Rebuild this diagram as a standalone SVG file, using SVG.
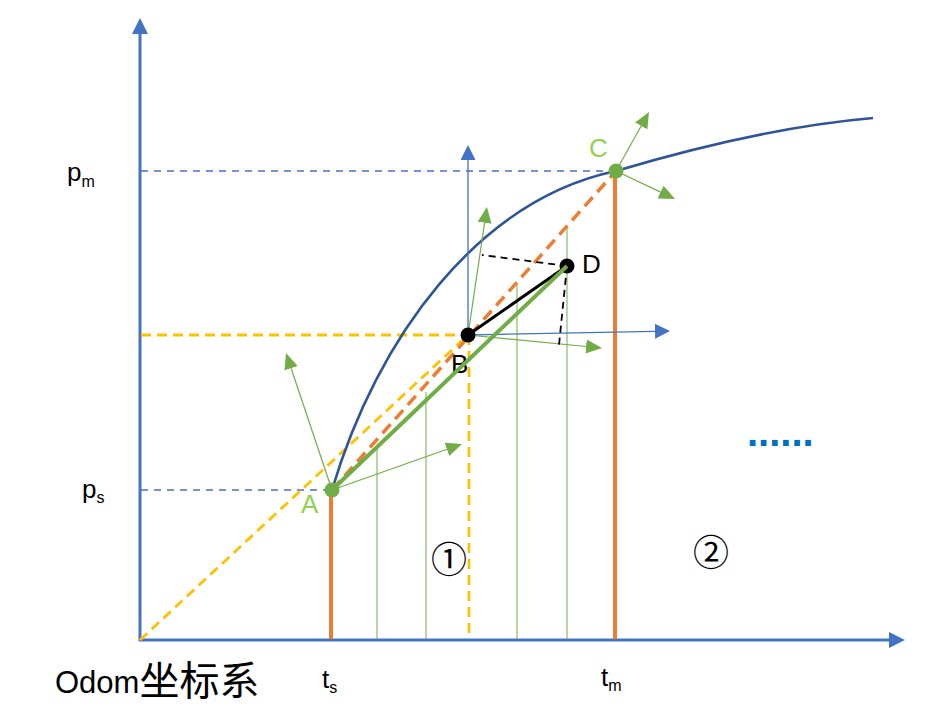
<svg xmlns="http://www.w3.org/2000/svg" width="950" height="723" viewBox="0 0 950 723">
<style>
.axis{stroke:#4472C4;stroke-width:3;fill:none}
.bluedash{stroke:#4472C4;stroke-width:1.6;stroke-dasharray:7 6;fill:none}
.thinblue{stroke:#4472C4;stroke-width:1.3;fill:none}
.yellow{stroke:#FFC000;stroke-width:2.8;stroke-dasharray:10 6;fill:none}
.orangedash{stroke:#ED7D31;stroke-width:3.5;stroke-dasharray:12 7;fill:none}
.orange{stroke:#ED7D31;stroke-width:4;fill:none}
.curve{stroke:#2F5597;stroke-width:2.6;fill:none}
.green{stroke:#70AD47;stroke-width:4;fill:none}
.gthin{stroke:#70AD47;stroke-width:1;fill:none}
.garrow{stroke:#70AD47;stroke-width:1.2;fill:none;marker-end:url(#gArr)}
.blackdash{stroke:#000;stroke-width:1.8;stroke-dasharray:7 5;fill:none}
.lbl{font-family:"Liberation Sans",Arial,sans-serif;fill:#000}
.glbl{font-family:"Liberation Sans",Arial,sans-serif;fill:#92D050;font-size:26px}
</style>
<defs>
<marker id="axArr" markerUnits="userSpaceOnUse" markerWidth="16" markerHeight="16" viewBox="0 0 16 16" refX="0" refY="8" orient="auto"><path d="M0,0 L16,8 L0,16 z" fill="#4472C4"/></marker>
<marker id="bArr" markerUnits="userSpaceOnUse" markerWidth="15" markerHeight="15" viewBox="0 0 15 15" refX="0" refY="7.5" orient="auto"><path d="M0,0 L15,7.5 L0,15 z" fill="#4472C4"/></marker>
<marker id="gArr" markerUnits="userSpaceOnUse" markerWidth="16" markerHeight="14" viewBox="0 0 16 14" refX="0" refY="7" orient="auto"><path d="M0,0 L16,7 L0,14 z" fill="#70AD47"/></marker>
</defs>
<rect width="950" height="723" fill="#fff"/>

<g id="axes">
<line class="axis" x1="140" y1="641" x2="140" y2="34" marker-end="url(#axArr)"/>
<line class="axis" x1="139" y1="640" x2="889" y2="640" marker-end="url(#axArr)"/>
</g>

<g id="connectors">
<line class="bluedash" x1="141" y1="171" x2="612" y2="171"/>
<line class="bluedash" x1="141" y1="490" x2="330" y2="490"/>
<line class="gthin" x1="377" y1="447" x2="377" y2="639"/>
<line class="gthin" x1="426" y1="392" x2="426" y2="639"/>
<line class="gthin" x1="517" y1="284" x2="517" y2="639"/>
<line class="gthin" x1="567" y1="227" x2="567" y2="639"/>
<line class="yellow" x1="140" y1="640" x2="468" y2="335"/>
<line class="yellow" x1="141" y1="335" x2="468" y2="335"/>
<line class="yellow" x1="469" y1="335" x2="469" y2="639"/>
<line class="orange" x1="331" y1="490" x2="331" y2="639"/>
<line class="orange" x1="615" y1="171" x2="615" y2="639"/>
<path class="curve" d="M332,490 C377,338 478,200 616,171 C680,152 780,126 873,118"/>
<line class="orangedash" x1="332" y1="490" x2="616" y2="171"/>
<line class="thinblue" x1="468" y1="335" x2="468" y2="160" marker-end="url(#bArr)"/>
<line class="thinblue" x1="468" y1="335" x2="655" y2="331.3" marker-end="url(#bArr)"/>
<line class="garrow" x1="332" y1="490" x2="291.1" y2="368.2"/>
<line class="garrow" x1="332" y1="490" x2="446.9" y2="449.3"/>
<line class="garrow" x1="468" y1="335" x2="484.6" y2="222.8"/>
<line class="garrow" x1="468" y1="335" x2="586.1" y2="346.5"/>
<line class="garrow" x1="616" y1="171" x2="641.2" y2="126"/>
<line class="garrow" x1="616" y1="171" x2="660.6" y2="192.1"/>
<line class="blackdash" x1="567" y1="266" x2="482" y2="255"/>
<line class="blackdash" x1="567" y1="266" x2="559" y2="345"/>
<line x1="468" y1="335" x2="567" y2="266" stroke="#000" stroke-width="3"/>
</g>

<g id="node-B">
<circle cx="468" cy="335" r="7.5" fill="#000"/>
<text class="lbl" x="451" y="373" font-size="26">B</text>
</g>
<g id="node-D">
<circle cx="567" cy="266" r="7.5" fill="#000"/>
<text class="lbl" x="582" y="273" font-size="26">D</text>
</g>
<g id="line-AD">
<line class="green" x1="332" y1="490" x2="567" y2="266"/>
</g>
<g id="node-A">
<circle cx="332" cy="490" r="7.5" fill="#70AD47"/>
<text class="glbl" x="301" y="513">A</text>
</g>
<g id="node-C">
<circle cx="616" cy="171" r="7.5" fill="#70AD47"/>
<text class="glbl" x="589" y="157">C</text>
</g>

<g id="labels">
<text class="lbl" x="67" y="181" font-size="26">p<tspan font-size="16" dy="6">m</tspan></text>
<text class="lbl" x="82" y="498" font-size="26">p<tspan font-size="16" dy="5">s</tspan></text>
<text class="lbl" x="322" y="688" font-size="26">t<tspan font-size="16" dy="5">s</tspan></text>
<text class="lbl" x="601" y="686" font-size="26">t<tspan font-size="16" dy="5">m</tspan></text>
<text x="55" y="693" font-family="'Liberation Sans','Noto Sans CJK SC',sans-serif" font-size="31" fill="#000">Odom<tspan font-family="'Noto Sans CJK SC',sans-serif" font-size="40" dy="2">坐标系</tspan></text>
<text x="449" y="573" font-family="'DejaVu Serif','Noto Sans CJK SC',serif" font-size="36" fill="#000" text-anchor="middle">①</text>
<text x="711" y="566" font-family="'DejaVu Serif','Noto Sans CJK SC',serif" font-size="36" fill="#000" text-anchor="middle">②</text>
<text x="747" y="446" font-family="'Liberation Sans',Arial,sans-serif" font-size="40" font-weight="bold" fill="#0070C0">......</text>
</g>
</svg>
